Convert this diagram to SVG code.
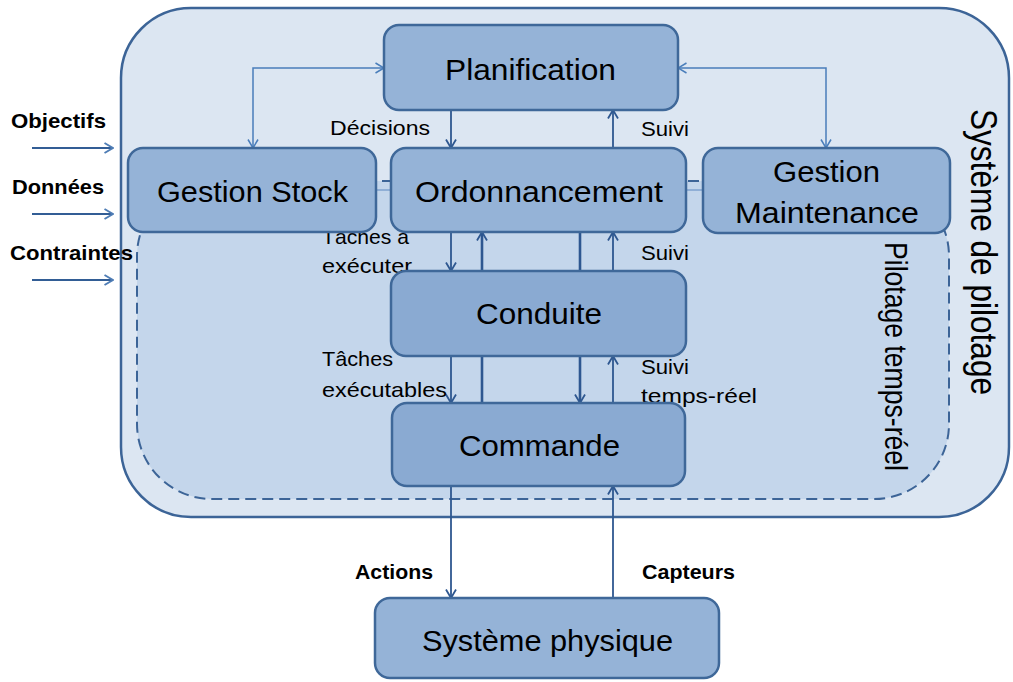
<svg xmlns="http://www.w3.org/2000/svg" width="1013" height="682" viewBox="0 0 1013 682">
<defs>
<style>
.node{fill:#95b3d7;stroke:#3f6899;stroke-width:2.5}
.node2{fill:#8aaad2;stroke:#3f6899;stroke-width:2.5}
.nt{font-family:"Liberation Sans",Arial,sans-serif;font-size:29px;fill:#000;text-anchor:start}
.lbl{font-family:"Liberation Sans",Arial,sans-serif;font-size:21px;fill:#000}
.blbl{font-family:"Liberation Sans",Arial,sans-serif;font-size:21px;font-weight:bold;fill:#000}
.dk{stroke:#2e5790;stroke-width:1.8;fill:none}
.dkb{stroke:#2e5790;stroke-width:2.6;fill:none}
.lt{stroke:#4a7ebb;stroke-width:1.5;fill:none}
.inp{stroke:#325d95;stroke-width:2.2;fill:none}
</style>
<marker id="ad" viewBox="0 0 10 12" refX="9.5" refY="6" markerWidth="10" markerHeight="12" markerUnits="userSpaceOnUse" orient="auto-start-reverse">
<path d="M1,1 L9.5,6 L1,11" fill="none" stroke="#2e5790" stroke-width="1.8"/>
</marker>
<marker id="al" viewBox="0 0 10 12" refX="9.5" refY="6" markerWidth="10" markerHeight="12" markerUnits="userSpaceOnUse" orient="auto-start-reverse">
<path d="M1,1 L9.5,6 L1,11" fill="none" stroke="#4a7ebb" stroke-width="1.5"/>
</marker>
<marker id="ai" viewBox="0 0 10 12" refX="9.5" refY="6" markerWidth="10" markerHeight="12" markerUnits="userSpaceOnUse" orient="auto">
<path d="M1,1 L9.5,6 L1,11" fill="none" stroke="#4f7db5" stroke-width="2"/>
</marker>
</defs>

<g id="systeme-pilotage">
<rect x="121" y="8" width="888" height="509" rx="70" fill="#dce6f2" stroke="#3c6497" stroke-width="2.5"/>
<text class="nt" font-size="36" x="971" y="109" transform="rotate(90 971 109)" textLength="286" lengthAdjust="spacingAndGlyphs" style="font-size:36px">Système de pilotage</text>
</g>

<g id="pilotage-temps-reel">
<rect x="137" y="181" width="812" height="318" rx="75" fill="#c4d6eb" stroke="#3c6497" stroke-width="2" stroke-dasharray="11 6"/>
<text class="nt" x="885" y="242" transform="rotate(90 885 242)" textLength="229" lengthAdjust="spacingAndGlyphs" style="font-size:31px">Pilotage temps-réel</text>
</g>

<g id="connectors">
<!-- inputs -->
<line class="inp" x1="32" y1="148" x2="113" y2="148" marker-end="url(#ai)"/>
<line class="inp" x1="32" y1="214" x2="113" y2="214" marker-end="url(#ai)"/>
<line class="inp" x1="32" y1="280" x2="113" y2="280" marker-end="url(#ai)"/>
<!-- planification <-> gestion -->
<polyline class="lt" points="384,68 253,68 253,148" marker-start="url(#al)" marker-end="url(#al)"/>
<polyline class="lt" points="678,68 826,68 826,148" marker-start="url(#al)" marker-end="url(#al)"/>
<!-- light links between middle row -->
<line x1="376" y1="190" x2="391" y2="190" stroke="#7fa2cf" stroke-width="1.5"/>
<line x1="686" y1="190" x2="703" y2="190" stroke="#7fa2cf" stroke-width="1.5"/>
<!-- planification <-> ordonnancement -->
<line class="dk" x1="451" y1="110" x2="451" y2="148" marker-end="url(#ad)"/>
<line class="dk" x1="613" y1="148" x2="613" y2="110" marker-end="url(#ad)"/>
<!-- ordonnancement <-> conduite -->
<line class="dk" x1="451" y1="232" x2="451" y2="271" marker-end="url(#ad)"/>
<line class="dk" x1="613" y1="271" x2="613" y2="232" marker-end="url(#ad)"/>
<!-- conduite <-> commande -->
<line class="dk" x1="451" y1="356" x2="451" y2="403" marker-end="url(#ad)"/>
<line class="dk" x1="613" y1="403" x2="613" y2="356" marker-end="url(#ad)"/>
<!-- long links commande <-> ordonnancement -->
<line class="dkb" x1="482" y1="403" x2="482" y2="232" marker-end="url(#ad)"/>
<line class="dkb" x1="580" y1="232" x2="580" y2="403" marker-end="url(#ad)"/>
<!-- commande <-> systeme physique -->
<line class="dk" x1="451" y1="486" x2="451" y2="598" marker-end="url(#ad)"/>
<line class="dk" x1="613" y1="598" x2="613" y2="486" marker-end="url(#ad)"/>
</g>

<g id="edge-labels">
<text class="blbl" x="11" y="128" textLength="95" lengthAdjust="spacingAndGlyphs">Objectifs</text>
<text class="blbl" x="12" y="194" textLength="92" lengthAdjust="spacingAndGlyphs">Données</text>
<text class="blbl" x="10" y="260" textLength="123" lengthAdjust="spacingAndGlyphs">Contraintes</text>
<text class="lbl" x="330" y="135" textLength="100" lengthAdjust="spacingAndGlyphs">Décisions</text>
<text class="lbl" x="641" y="136" textLength="48" lengthAdjust="spacingAndGlyphs">Suivi</text>
<text class="lbl" x="322" y="244" textLength="87" lengthAdjust="spacingAndGlyphs">Tâches à</text>
<text class="lbl" x="322" y="273" textLength="90" lengthAdjust="spacingAndGlyphs">exécuter</text>
<text class="lbl" x="641" y="260" textLength="48" lengthAdjust="spacingAndGlyphs">Suivi</text>
<text class="lbl" x="322" y="366" textLength="71" lengthAdjust="spacingAndGlyphs">Tâches</text>
<text class="lbl" x="322" y="397" textLength="125" lengthAdjust="spacingAndGlyphs">exécutables</text>
<text class="lbl" x="641" y="374" textLength="48" lengthAdjust="spacingAndGlyphs">Suivi</text>
<text class="lbl" x="641" y="403" textLength="116" lengthAdjust="spacingAndGlyphs">temps-réel</text>
<text class="blbl" x="355" y="579" textLength="78" lengthAdjust="spacingAndGlyphs">Actions</text>
<text class="blbl" x="642" y="579" textLength="93" lengthAdjust="spacingAndGlyphs">Capteurs</text>
</g>

<g id="planification">
<rect class="node" x="384" y="25" width="294" height="85" rx="15"/>
<text class="nt" x="445" y="80" textLength="171" lengthAdjust="spacingAndGlyphs">Planification</text>
</g>
<g id="gestion-stock">
<rect class="node" x="128" y="148" width="248" height="84" rx="15"/>
<text class="nt" x="157" y="202" textLength="191" lengthAdjust="spacingAndGlyphs">Gestion Stock</text>
</g>
<g id="ordonnancement">
<rect class="node" x="391" y="148" width="295" height="84" rx="15"/>
<text class="nt" x="415" y="202" textLength="248" lengthAdjust="spacingAndGlyphs">Ordonnancement</text>
</g>
<g id="gestion-maintenance">
<rect class="node" x="703" y="148" width="247" height="85" rx="15"/>
<text class="nt" x="773" y="182" textLength="107" lengthAdjust="spacingAndGlyphs">Gestion</text>
<text class="nt" x="735" y="223" textLength="184" lengthAdjust="spacingAndGlyphs">Maintenance</text>
</g>
<g id="conduite">
<rect class="node2" x="391" y="271" width="295" height="85" rx="15"/>
<text class="nt" x="476" y="324" textLength="126" lengthAdjust="spacingAndGlyphs" fill="#111">Conduite</text>
</g>
<g id="commande">
<rect class="node2" x="392" y="403" width="293" height="83" rx="15"/>
<text class="nt" x="459" y="456" textLength="161" lengthAdjust="spacingAndGlyphs">Commande</text>
</g>
<g id="systeme-physique">
<rect class="node" x="375" y="598" width="344" height="80" rx="15"/>
<text class="nt" x="422" y="651" textLength="251" lengthAdjust="spacingAndGlyphs">Système physique</text>
</g>
</svg>
